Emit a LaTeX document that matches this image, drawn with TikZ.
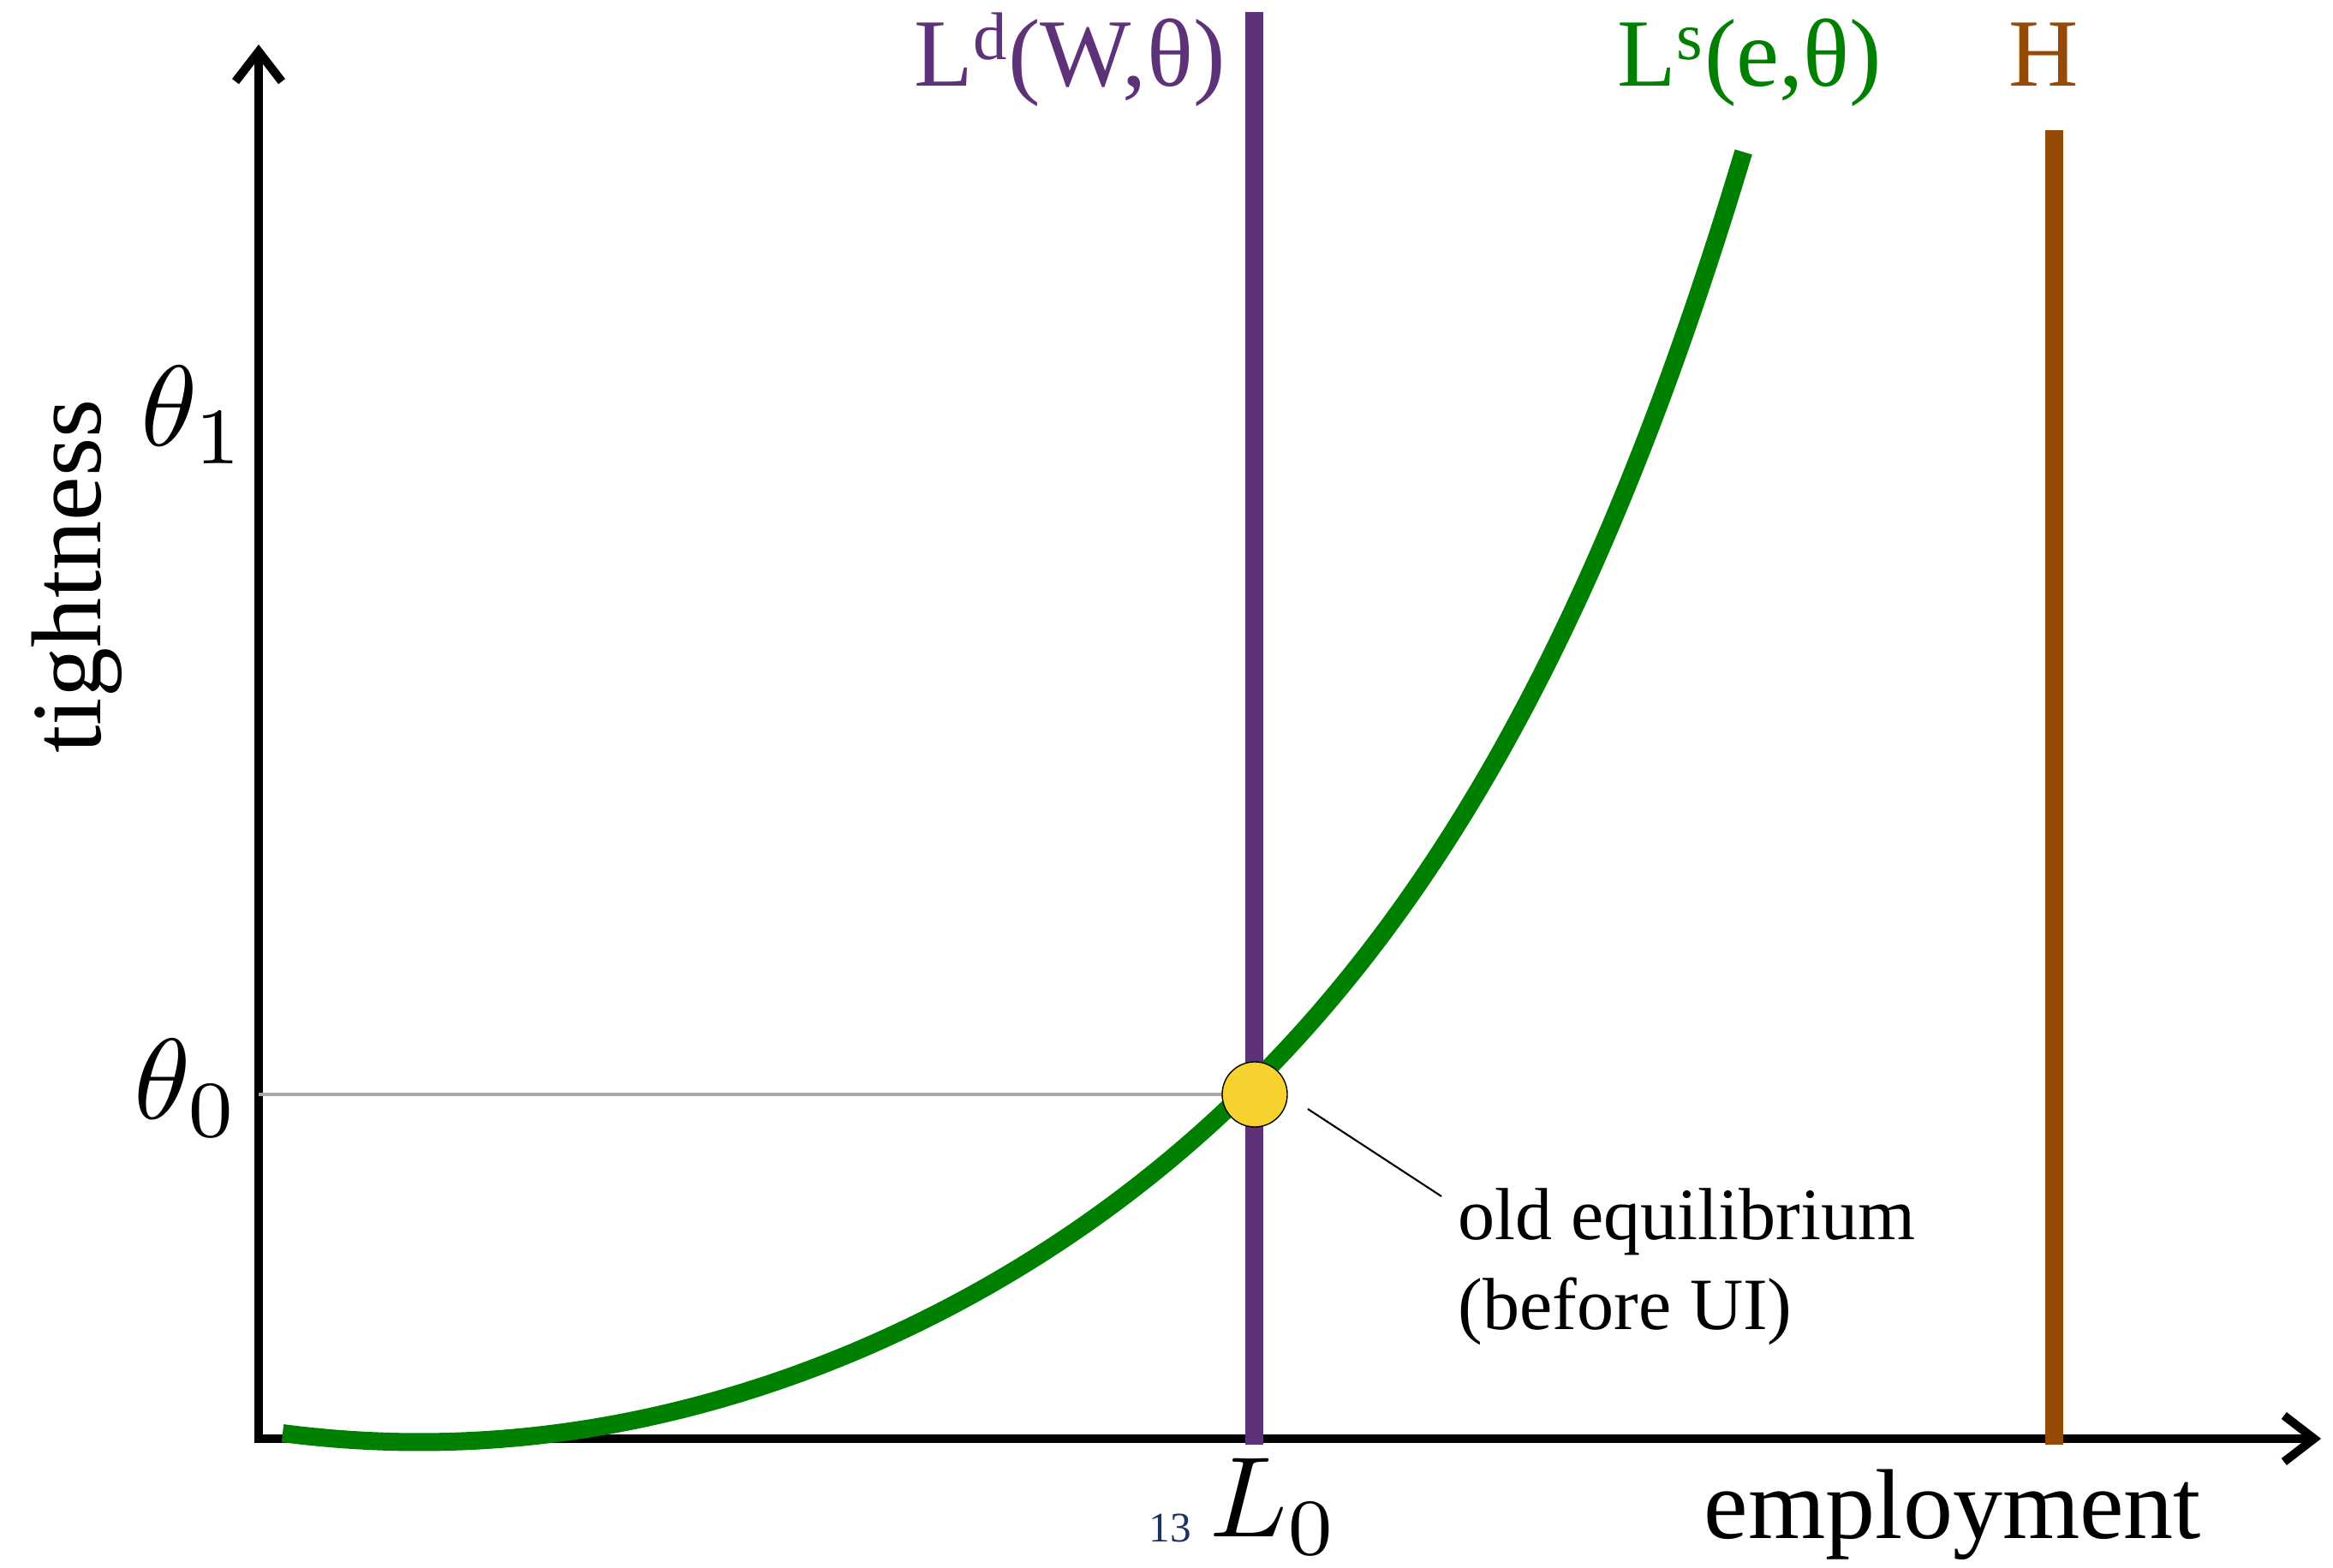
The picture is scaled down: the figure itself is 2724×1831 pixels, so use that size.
\documentclass[tikz,border=0pt]{standalone}
\usepackage[no-math]{fontspec}
\setmainfont{Liberation Serif}
\usetikzlibrary{arrows.meta,positioning,calc}
\definecolor{ldpurple}{RGB}{94,50,120}
\definecolor{lsgreen}{RGB}{0,128,0}
\definecolor{hbrown}{RGB}{150,74,8}
\definecolor{eqgold}{RGB}{245,210,45}
\definecolor{refgray}{RGB}{168,170,168}
\definecolor{tagblue}{RGB}{28,50,100}
\tikzset{
  axislbl/.style={font=\fontsize{33}{40}\selectfont,inner sep=0pt},
  mathlbl/.style={font=\fontsize{10}{12}\selectfont,scale=3.8,inner sep=0pt},
  curvelbl/.style={font=\fontsize{32}{38}\selectfont,inner sep=0pt,anchor=base},
  thickline/.style={line width=2.1mm}
}
\begin{document}
\begin{tikzpicture}[x=0.01cm,y=0.01cm]
\useasboundingbox (0,0) rectangle (2724,1831);
\coordinate (orig) at (302,151);\coordinate (ytop) at (302,1779);\coordinate (xend) at (2710,151);\coordinate (eqpt) at (1465,553);
\draw[line width=1mm,{Straight Barb[length=3.5mm,width=5.4mm]}-{Straight Barb[length=3.5mm,width=5.4mm]}] (ytop)--(orig)--(xend);
\draw[refgray,line width=0.45mm] (orig|-eqpt) -- (eqpt);
% supply curve
\draw[lsgreen,thickline] plot[domain=-0.16:1.547,samples=90,smooth] ({490+1000*\x},{147+406.8*\x*\x+39.2*(\x*\x)^3});
\draw[ldpurple,thickline] (1464,144)--(1464,1817);\draw[hbrown,thickline] (2398,144)--(2398,1679);
\node[circle,fill=eqgold,draw=black,line width=0.4pt,minimum size=0.76cm,inner sep=0pt] (eq) at (eqpt) {};
\node[curvelbl,text=ldpurple] (ldlbl) at (1249,1730) {L\textsuperscript{d}(W,θ)};
\node[curvelbl,text=lsgreen] (lslbl) at (2043,1730) {L\textsuperscript{s}(e,θ)};
\node[curvelbl,text=hbrown] (hlbl) at (2386,1730) {H};
\node[mathlbl,anchor=base] (theta1) at (226,1310) {$\theta_1$};
\node[mathlbl,anchor=base] (theta0) at (218,524) {$\theta_0$};
\node[mathlbl,anchor=base] (lzero) at (1488,36) {$L_0$};
\node[font=\fontsize{14}{16}\selectfont,text=tagblue,anchor=base,inner sep=0pt] (tag13) at (1366,30) {13};
\node[axislbl,anchor=base] (xlbl) at (2280,34) {employment};
\node[axislbl,anchor=base,rotate=90] (ylbl) at (117,1158) {tightness};
\node[font=\fontsize{24.5}{30}\selectfont,align=left,anchor=north west,inner sep=0pt] (eqtxt) at (1702,444) {old equilibrium\\(before UI)};
\coordinate (leadA) at (1527,536);\coordinate (leadB) at (1683,434);
\draw[line width=0.6pt] (leadA)--(leadB);
\end{tikzpicture}
\end{document}
